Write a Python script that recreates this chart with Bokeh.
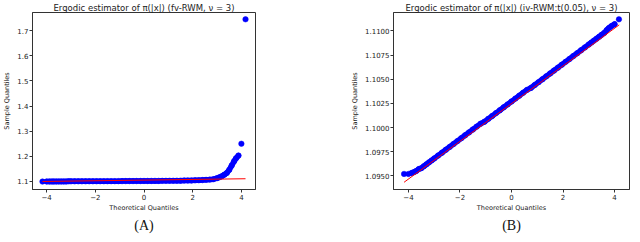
from bokeh.plotting import figure
from bokeh.layouts import row
from bokeh.models import FixedTicker, NumeralTickFormatter, Title, Range1d
from bokeh.embed import file_html
from bokeh.resources import INLINE

# Theoretical quantiles (shared by both panels)
theo_q = [-4.17, -4.0, -3.88, -3.78, -3.7, -3.6, -3.5, -3.4, -3.3, -3.2, -3.1, -3.0,
          -2.85, -2.7, -2.55, -2.4, -2.25, -2.1, -1.95, -1.8, -1.65, -1.5, -1.35, -1.2,
          -1.05, -0.9, -0.75, -0.6, -0.45, -0.3, -0.15, 0.0, 0.15, 0.3, 0.45, 0.6, 0.75,
          0.9, 1.05, 1.2, 1.35, 1.5, 1.65, 1.8, 1.95, 2.1, 2.25, 2.4, 2.55, 2.7, 2.85,
          3.0, 3.1, 3.2, 3.3, 3.4, 3.5, 3.6, 3.7, 3.78, 3.88, 4.0, 4.17]

# Panel A: fv-RWM sample quantiles
sample_a = [1.0995, 1.0998, 1.0999, 1.1000, 1.1000, 1.1001, 1.1002, 1.1002, 1.1003, 1.1003,
            1.1004, 1.1004, 1.1005, 1.1006, 1.1006, 1.1007, 1.1008, 1.1008, 1.1009, 1.1010,
            1.1010, 1.1011, 1.1012, 1.1012, 1.1013, 1.1014, 1.1015, 1.1015, 1.1016, 1.1017,
            1.1018, 1.1019, 1.1020, 1.1021, 1.1022, 1.1023, 1.1024, 1.1025, 1.1027, 1.1028,
            1.1030, 1.1032, 1.1034, 1.1037, 1.1040, 1.1044, 1.1049, 1.1055, 1.1063, 1.1073,
            1.1090, 1.1130, 1.1170, 1.1210, 1.1270, 1.1340, 1.1460, 1.1630, 1.1800, 1.1920,
            1.2030, 1.2500, 1.7450]
dense_a = (1, 61)   # index span where the sample points overlap into a solid band
line_a_x = [-4.17, 4.17]
line_a_y = [1.0999, 1.1108]

# Panel B: iv-RWM:t(0.05) sample quantiles
sample_b = [1.0952, 1.0952, 1.0953, 1.0954, 1.0955, 1.0957, 1.0958, 1.0960, 1.0962, 1.0964,
            1.0966, 1.0968, 1.0971, 1.0974, 1.0977, 1.0980, 1.0983, 1.0986, 1.0989, 1.0992,
            1.0995, 1.0998, 1.1001, 1.1004, 1.1006, 1.1009, 1.1012, 1.1015, 1.1018, 1.1021,
            1.1024, 1.1027, 1.1030, 1.1033, 1.1036, 1.1039, 1.1041, 1.1044, 1.1047, 1.1050,
            1.1053, 1.1056, 1.1059, 1.1062, 1.1065, 1.1068, 1.1071, 1.1074, 1.1077, 1.1080,
            1.1083, 1.1086, 1.1088, 1.1090, 1.1092, 1.1094, 1.1096, 1.1098, 1.1101, 1.1103,
            1.1105, 1.1107, 1.1112]
dense_b = (2, 62)
line_b_x = [-4.17, 4.18]
line_b_y = [1.09434, 1.11063]

x_ticks = [-4, -2, 0, 2, 4]
x_tick_labels = {-4: "\u22124", -2: "\u22122", 0: "0", 2: "2", 4: "4"}
y_ticks_a = [1.1, 1.2, 1.3, 1.4, 1.5, 1.6, 1.7]
y_ticks_b = [1.095, 1.0975, 1.1, 1.1025, 1.105, 1.1075, 1.11]

FONT = "DejaVu Sans"
AX = "#333333"
BLUE = "#0000ff"


def make_panel(title, xs, ys, dense, lx, ly, yr, yticks, yfmt, tag, w, bl, br):
    p = figure(width=w, height=234, output_backend="svg", toolbar_location=None,
               x_range=Range1d(-4.58, 4.58), y_range=Range1d(*yr),
               min_border_left=bl, min_border_right=br, min_border_top=4,
               min_border_bottom=20)
    p.title.text = title
    p.title.align = "center"
    p.title.text_font = FONT
    p.title.text_font_size = "8.5px"
    p.title.text_font_style = "normal"
    p.title.text_color = "#222222"
    p.title.standoff = 0
    p.grid.visible = False
    p.outline_line_color = AX
    p.outline_line_width = 1
    for ax in (p.xaxis[0], p.yaxis[0]):
        ax.axis_line_color = AX
        ax.major_tick_line_color = AX
        ax.minor_tick_line_color = None
        ax.major_tick_out = 3
        ax.major_tick_in = 0
        ax.major_label_text_font = FONT
        ax.major_label_text_font_size = "7px"
        ax.major_label_text_color = "#222222"
        ax.major_label_standoff = 1
        ax.axis_label_text_font = FONT
        ax.axis_label_text_font_size = "6.5px"
        ax.axis_label_text_font_style = "normal"
        ax.axis_label_text_color = "#222222"
        ax.axis_label_standoff = 1
    p.xaxis.ticker = FixedTicker(ticks=x_ticks)
    p.xaxis.major_label_overrides = x_tick_labels
    p.xaxis.axis_label = "Theoretical Quantiles"
    p.yaxis.ticker = FixedTicker(ticks=yticks)
    p.yaxis.formatter = NumeralTickFormatter(format=yfmt)
    p.yaxis.axis_label = "Sample Quantiles"
    p.yaxis.axis_label_standoff = 3
    a, b = dense
    p.line(xs[a:b], ys[a:b], line_color=BLUE, line_width=5.5, line_cap="round",
           line_join="round")
    p.scatter(xs, ys, marker="circle", size=5.5, fill_color=BLUE,
              line_color=BLUE, line_width=0.5)
    p.line(lx, ly, line_color="#ff0000", line_width=1)
    p.add_layout(Title(text=tag, align="center", text_font="Liberation Serif",
                       text_font_size="14px", text_font_style="normal",
                       text_color="#111111", standoff=3), "below")
    return p


p1 = make_panel("Ergodic estimator of \u03c0(|x|) (fv-RWM, \u03bd = 3)",
                theo_q, sample_a, dense_a, line_a_x, line_a_y, (1.068, 1.772),
                y_ticks_a, "0.0", "(A)", 330, 26, 75)
p2 = make_panel("Ergodic estimator of \u03c0(|x|) (iv-RWM:t(0.05), \u03bd = 3)",
                theo_q, sample_b, dense_b, line_b_x, line_b_y, (1.09359, 1.11191),
                y_ticks_b, "0.0000", "(B)", 302, 63, 3)

layout = row(p1, p2)
open("out.html", "w").write(file_html(layout, INLINE))
